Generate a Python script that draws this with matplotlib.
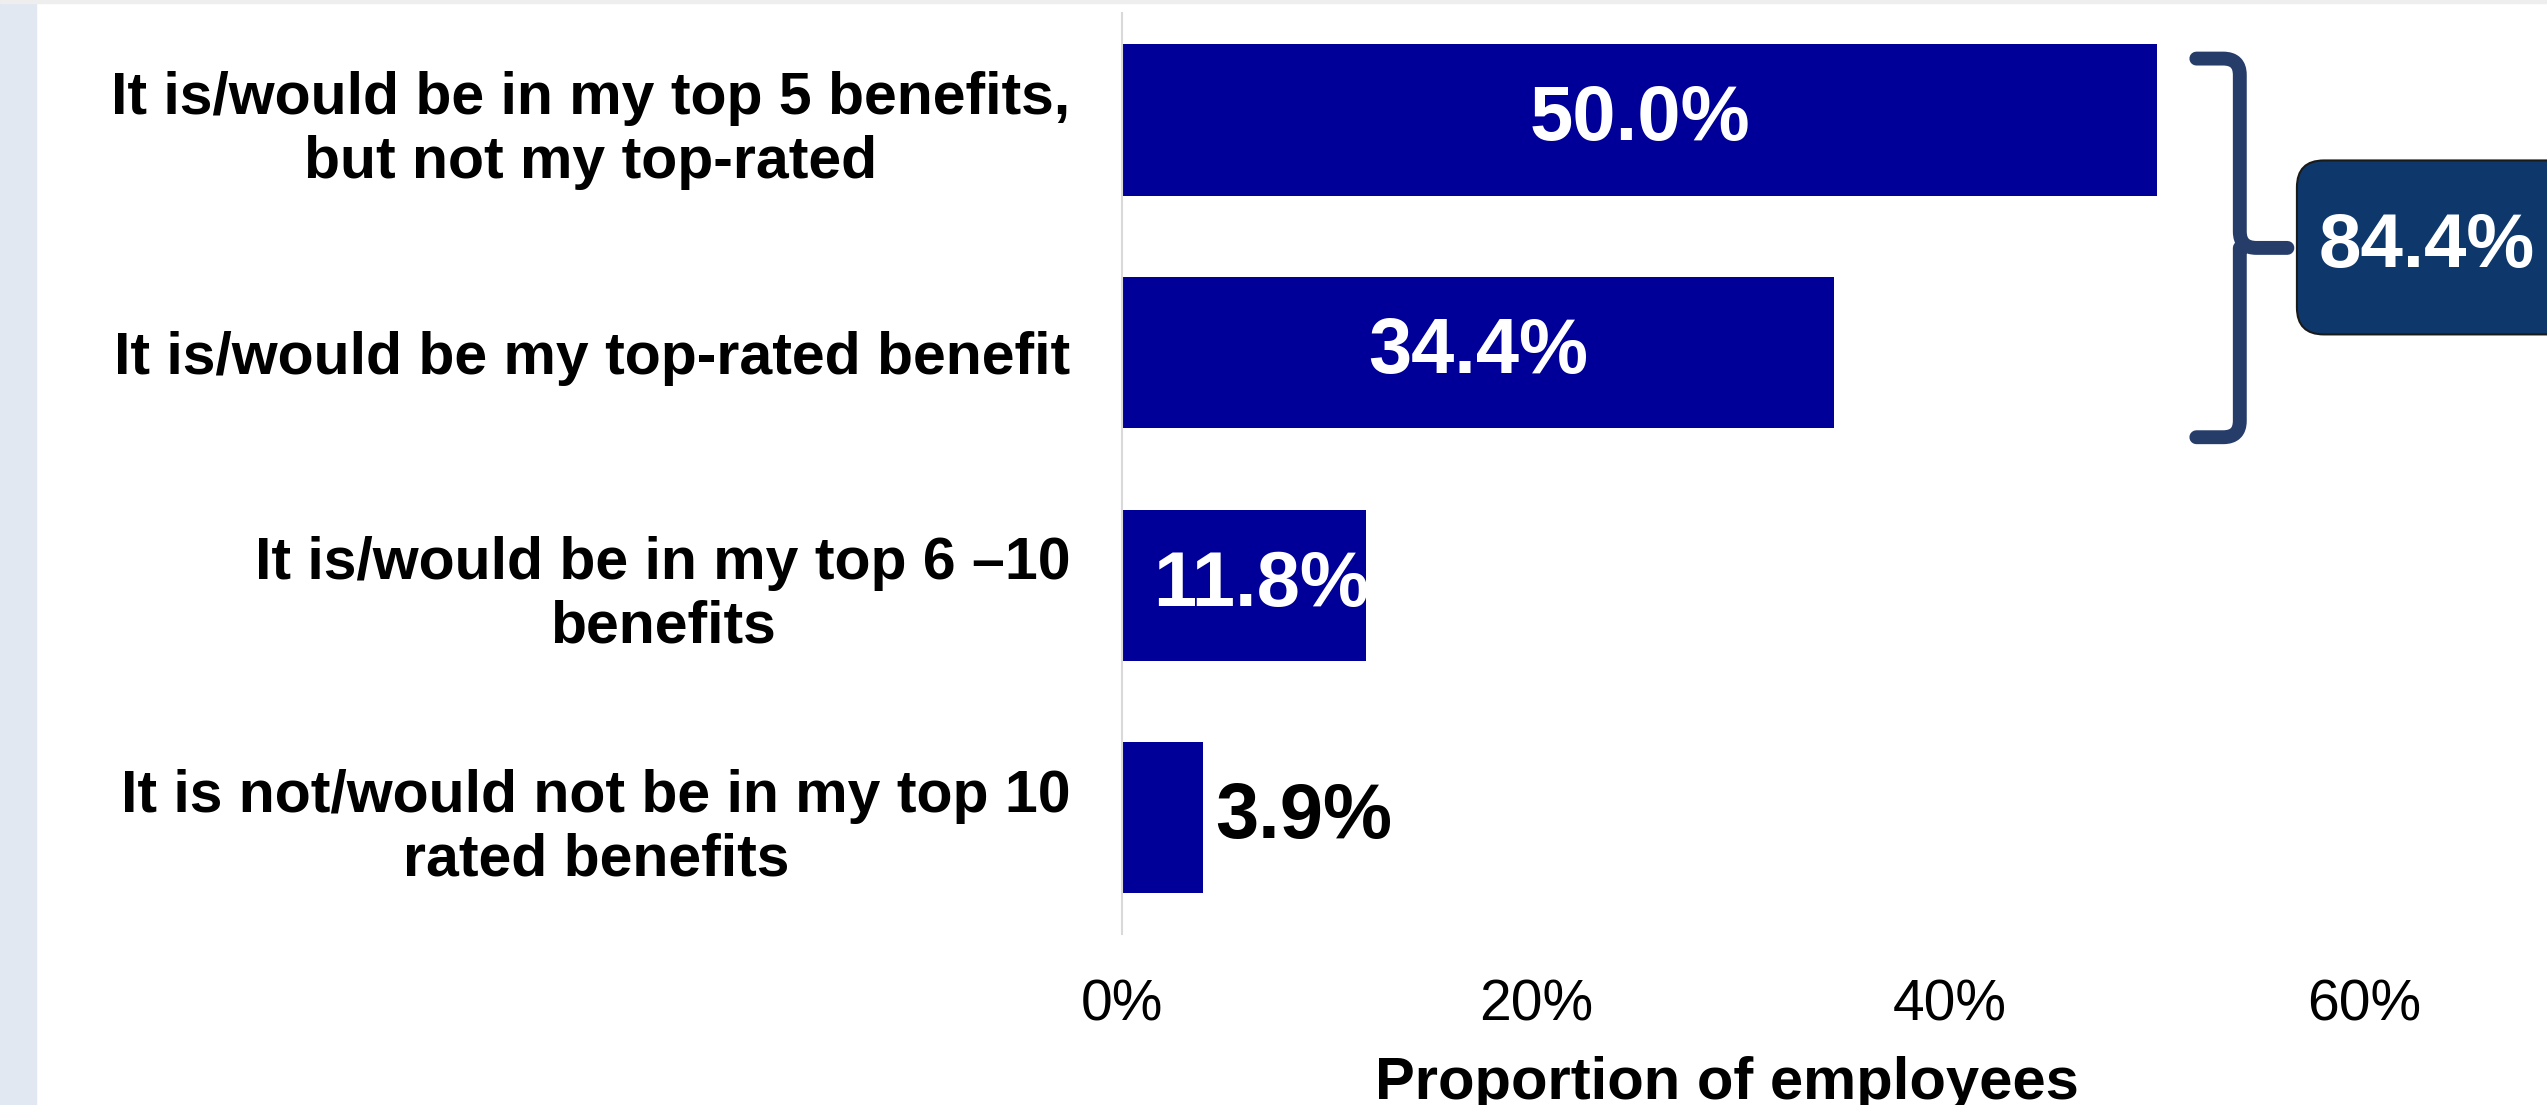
import matplotlib.pyplot as plt
from matplotlib.patches import FancyBboxPatch, Rectangle, PathPatch
from matplotlib.path import Path

# survey answers, top to bottom
categories = [
    'It is/would be in my top 5 benefits,\nbut not my top-rated',
    'It is/would be my top-rated benefit',
    'It is/would be in my top 6 \u201310\nbenefits',
    'It is not/would not be in my top 10\nrated benefits',
]
shares = [0.500, 0.344, 0.118, 0.039]
xticks = [0.0, 0.2, 0.4, 0.6]
xtick_labels = ['0%', '20%', '40%', '60%']

bar_color = '#000099'
brace_color = '#263D6A'
box_color = '#0E386C'

plt.rcParams['font.family'] = ['Liberation Sans', 'DejaVu Sans']

W, H = 2547, 1105
fig = plt.figure(figsize=(W / 100, H / 100), dpi=100)

# page background strips
fig.patches.append(Rectangle((0, 0), 36 / W, 1, transform=fig.transFigure,
                             color='#E1E8F1', zorder=0))
fig.patches.append(Rectangle((0, 1 - 3 / H), 1, 3 / H, transform=fig.transFigure,
                             color='#EEEEEE', zorder=0))

ax = fig.add_axes([1122 / W, 1 - 934 / H, 1242 / W, 921 / H])
y = list(range(len(categories)))
bars = ax.barh(y, shares, height=0.65, color=bar_color)

ax.set_ylim(3.5, -0.46)
ax.set_xlim(0, 0.6)
ax.set_yticks(y)
ax.set_yticklabels(categories, fontsize=42.5, fontweight='bold')
for lbl in ax.get_yticklabels():
    lbl.set_multialignment('center')
ax.set_xticks(xticks)
ax.set_xticklabels(xtick_labels, fontsize=41)
ax.tick_params(axis='y', length=0, pad=37)
ax.tick_params(axis='x', length=0, pad=32)

for side in ['top', 'right', 'bottom']:
    ax.spines[side].set_visible(False)
ax.spines['left'].set_color('#D9D9D9')
ax.spines['left'].set_linewidth(1.5)

ax.set_xlabel('Proportion of employees', fontsize=43, fontweight='bold')
ax.xaxis.set_label_coords(0.487, -0.1325)

# value labels: inside the bar when it is wide enough, else to its right
for bar, val in zip(bars, shares):
    cy = bar.get_y() + bar.get_height() / 2
    text = f'{val * 100:.1f}%'
    if val > 0.2:
        ax.text(val / 2, cy, text, ha='center', va='center',
                color='white', fontsize=56, fontweight='bold')
    elif val > 0.1:
        ax.text(0.015, cy, text, ha='left', va='center',
                color='white', fontsize=56, fontweight='bold')
    else:
        ax.text(val + 0.006, cy, text, ha='left', va='center',
                color='black', fontsize=56, fontweight='bold')

# brace grouping the top two answers
x0, x1, x2 = 0.519, 0.540, 0.563
yt, yb, ym = -0.264, 1.364, 0.55
r = 0.07
rx = 0.008
verts = [
    (x0, yt), (x1 - rx, yt), (x1, yt), (x1, yt + r),
    (x1, ym - r), (x1, ym), (x1 + rx, ym), (x2, ym),
    (x1, ym), (x1, ym + r),
    (x1, yb - r), (x1, yb), (x1 - rx, yb), (x0, yb),
]
codes = [
    Path.MOVETO, Path.LINETO, Path.CURVE3, Path.CURVE3,
    Path.LINETO, Path.CURVE3, Path.CURVE3, Path.LINETO,
    Path.MOVETO, Path.CURVE3,
    Path.LINETO, Path.CURVE3, Path.CURVE3, Path.LINETO,
]
ax.add_patch(PathPatch(Path(verts, codes), facecolor='none',
                       edgecolor=brace_color, linewidth=10,
                       capstyle='round', joinstyle='round', clip_on=False))

# combined total box
total = shares[0] + shares[1]
box = FancyBboxPatch((0.5676, 0.174), 0.2, 0.748,
                     boxstyle='round,pad=0,rounding_size=0.013',
                     mutation_aspect=8.9,
                     facecolor=box_color, edgecolor='#1A1A1A', linewidth=1.5,
                     clip_on=False)
ax.add_patch(box)
ax.text(0.578, 0.55, f'{total * 100:.1f}%', ha='left', va='center',
        color='white', fontsize=55, fontweight='bold', clip_on=False)

fig.savefig('out.png', dpi=100)
